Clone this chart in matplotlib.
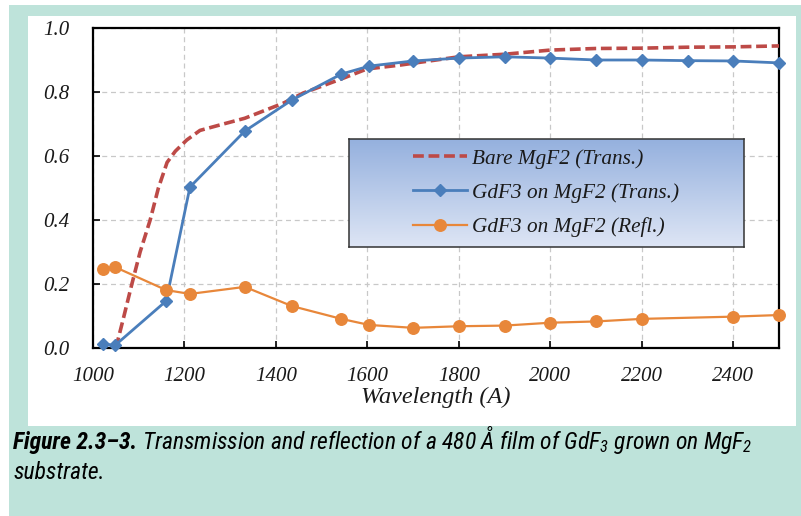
import numpy as np
import matplotlib
matplotlib.use("Agg")
import matplotlib.pyplot as plt
from matplotlib import font_manager
from matplotlib.patches import Rectangle
from matplotlib.text import Annotation

# ---- data -------------------------------------------------------------
bare_wl = [1050, 1066, 1085, 1103, 1125, 1143, 1162, 1180, 1205, 1234, 1285,
           1332, 1416, 1460, 1547, 1599, 1671, 1800, 1900, 2000, 2100, 2200,
           2300, 2400, 2500]
bare_trans = [0.0, 0.09, 0.20, 0.30, 0.40, 0.50, 0.58, 0.615, 0.65, 0.68, 0.70,
              0.718, 0.765, 0.797, 0.843, 0.872, 0.884, 0.91, 0.918, 0.931,
              0.936, 0.937, 0.94, 0.941, 0.944]

gdf_wl = [1022, 1048, 1160, 1212, 1332, 1435, 1543, 1604, 1700, 1800, 1900,
          2000, 2100, 2200, 2300, 2400, 2500]
gdf_trans = [0.013, 0.008, 0.147, 0.503, 0.678, 0.775, 0.856, 0.881, 0.897,
             0.906, 0.910, 0.906, 0.900, 0.900, 0.898, 0.897, 0.891]

refl_wl = [1022, 1048, 1160, 1212, 1332, 1435, 1543, 1604, 1700, 1800, 1900,
           2000, 2100, 2200, 2400, 2500]
gdf_refl = [0.247, 0.253, 0.181, 0.169, 0.191, 0.131, 0.091, 0.072, 0.063,
            0.068, 0.070, 0.079, 0.083, 0.091, 0.098, 0.103]

x_ticks = [1000, 1200, 1400, 1600, 1800, 2000, 2200, 2400]
y_ticks = [0.0, 0.2, 0.4, 0.6, 0.8, 1.0]

labels = ["Bare MgF2 (Trans.)", "GdF3 on MgF2 (Trans.)", "GdF3 on MgF2 (Refl.)"]

RED = "#bd4a47"
BLUE = "#4a7ebb"
ORANGE = "#e8873a"
TEAL = "#bee3da"


def pick_family(candidates):
    for fam in candidates:
        try:
            font_manager.findfont(font_manager.FontProperties(family=fam),
                                  fallback_to_default=False)
            return fam
        except Exception:
            continue
    return "DejaVu Sans"


serif = pick_family(["Liberation Serif", "DejaVu Serif"])
narrow = pick_family(["Liberation Sans Narrow", "Roboto Condensed",
                      "Liberation Sans"])

plt.rcParams["mathtext.fontset"] = "custom"
plt.rcParams["mathtext.rm"] = f"{narrow}:italic"
plt.rcParams["mathtext.it"] = f"{narrow}:italic"
plt.rcParams["mathtext.bf"] = f"{narrow}:italic:bold"

W, H = 801, 516
fig = plt.figure(figsize=(W / 100, H / 100), dpi=100)
fig.patch.set_facecolor("white")


def fx(px):
    return px / W


def fy(py):
    return 1 - py / H


# framed panel background and white plotting card
fig.patches.append(Rectangle((fx(9), 0), fx(W - 9), 1 - 5 / H,
                             transform=fig.transFigure, facecolor=TEAL,
                             edgecolor="none", zorder=-2))
fig.patches.append(Rectangle((fx(28), fy(426)), fx(796 - 28), (426 - 16) / H,
                             transform=fig.transFigure, facecolor="white",
                             edgecolor="none", zorder=-1))

ax = fig.add_axes([fx(93), fy(348), fx(779 - 93), (348 - 28) / H])
ax.set_facecolor("white")

h_bare, = ax.plot(bare_wl, bare_trans, color=RED, lw=2.6, dashes=(3.0, 1.3),
                  zorder=3)
h_gdf, = ax.plot(gdf_wl, gdf_trans, color=BLUE, lw=2.0, marker="D",
                 markersize=6.4, zorder=4)
h_refl, = ax.plot(refl_wl, gdf_refl, color=ORANGE, lw=1.6, marker="o",
                  markersize=8.3, zorder=4)

ax.set_xlim(1000, 2500)
ax.set_ylim(0, 1.0)
ax.set_xticks(x_ticks)
ax.set_yticks(y_ticks)
ax.set_yticklabels([f"{v:.1f}" for v in y_ticks])
ax.grid(True, color="#c8c8c8", linestyle=(0, (4, 3)), linewidth=0.9)
ax.set_axisbelow(True)
ax.tick_params(direction="in", length=5, width=1.2, colors="black",
               labelsize=15, top=False, right=False)
ax.tick_params(axis="x", pad=14)
ax.tick_params(axis="y", pad=17)
for lab in ax.get_xticklabels() + ax.get_yticklabels():
    lab.set_family(serif)
    lab.set_style("italic")
    lab.set_color("#1a1a1a")
for sp in ax.spines.values():
    sp.set_linewidth(1.6)
    sp.set_color("black")
for c in ax.lines:
    c.set_clip_on(False)

ax.set_xlabel("Wavelength (A)", family=serif, style="italic", fontsize=17.5,
              color="#1a1a1a", labelpad=0)

# legend box with vertical gradient fill
lax = fig.add_axes([fx(349), fy(247), fx(744 - 349), (247 - 139) / H])
grad = np.linspace(0, 1, 256).reshape(-1, 1)
top = np.array([0.58, 0.69, 0.87])
bot = np.array([0.87, 0.90, 0.96])
img = top[None, None, :] * (1 - grad[:, :, None]) + bot[None, None, :] * grad[:, :, None]
lax.imshow(img, aspect="auto", extent=(0, 1, 0, 1), origin="upper")
lax.set_xlim(0, 1)
lax.set_ylim(0, 1)
lax.set_xticks([])
lax.set_yticks([])
for sp in lax.spines.values():
    sp.set_linewidth(1.1)
    sp.set_color("#333333")

leg = lax.legend([h_bare, h_gdf, h_refl], labels, loc="center left",
                 bbox_to_anchor=(64 / 395, 0.5), frameon=False,
                 prop=font_manager.FontProperties(family=serif, style="italic",
                                                  size=15.3),
                 handlelength=2.55, handletextpad=0.25, labelspacing=0.68,
                 borderpad=0, borderaxespad=0)
for t in leg.get_texts():
    t.set_color("#1a1a1a")

# caption
cap_size = 17
t1 = fig.text(fx(13), fy(449), "Figure 2.3\u20133.", family=narrow,
              style="italic", weight="bold", fontsize=cap_size, va="baseline",
              ha="left", color="black")
rest = Annotation(" Transmission and reflection of a 480 \u00c5 film of GdF$_3$ grown on MgF$_2$",
                  xy=(1, fy(449)), xycoords=(t1, "figure fraction"),
                  family=narrow, style="italic", fontsize=cap_size,
                  va="baseline", ha="left", color="black",
                  annotation_clip=False)
fig.add_artist(rest)
fig.text(fx(13), fy(479), "substrate.", family=narrow, style="italic",
         fontsize=cap_size, va="baseline", ha="left", color="black")

fig.savefig("out.png", dpi=100, facecolor=fig.get_facecolor())
